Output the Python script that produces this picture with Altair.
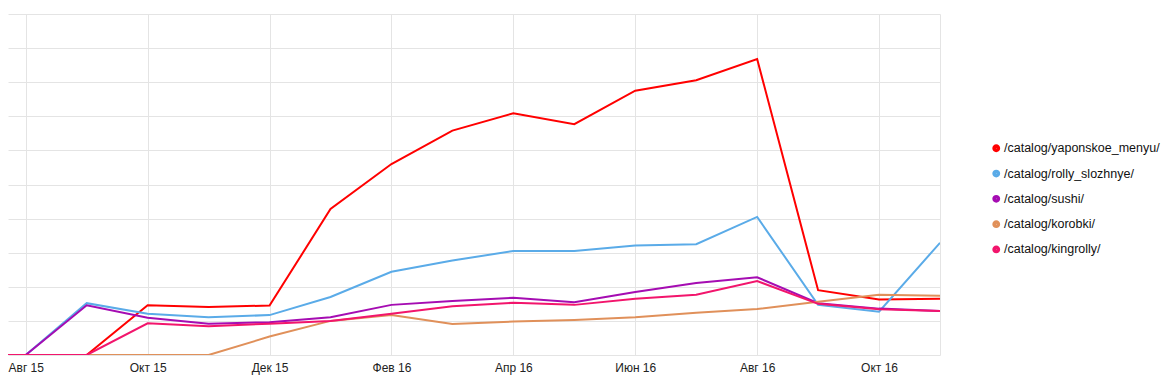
import altair as alt
import pandas as pd

# Month index 0 = Jul 15 ... 16 = Nov 16
months = ["Июл 15", "Авг 15", "Сен 15", "Окт 15", "Ноя 15", "Дек 15",
          "Янв 16", "Фев 16", "Мар 16", "Апр 16", "Май 16", "Июн 16",
          "Июл 16", "Авг 16", "Сен 16", "Окт 16", "Ноя 16"]
month_idx = list(range(len(months)))

series_names = ["/catalog/yaponskoe_menyu/", "/catalog/rolly_slozhnye/",
                "/catalog/sushi/", "/catalog/korobki/", "/catalog/kingrolly/"]
series_colors = ["#ff0000", "#5aabe8", "#a50cb2", "#e0905a", "#f2156c"]

yaponskoe_menyu = [0, 0, 0, 1.46, 1.41, 1.45, 4.28, 5.60, 6.58, 7.09, 6.77, 7.75, 8.06, 8.68, 1.90, 1.63, 1.65]
rolly_slozhnye = [0, 0, 1.52, 1.21, 1.11, 1.17, 1.70, 2.44, 2.77, 3.05, 3.05, 3.21, 3.25, 4.05, 1.47, 1.27, 3.29]
sushi = [0, 0, 1.46, 1.09, 0.92, 0.96, 1.11, 1.47, 1.58, 1.68, 1.55, 1.85, 2.11, 2.28, 1.52, 1.36, 1.29]
korobki = [0, 0, 0, 0, 0, 0.54, 1.00, 1.17, 0.91, 0.98, 1.03, 1.11, 1.24, 1.35, 1.56, 1.77, 1.74]
kingrolly = [0, 0, 0, 0.93, 0.84, 0.92, 1.00, 1.21, 1.43, 1.53, 1.47, 1.65, 1.77, 2.17, 1.50, 1.34, 1.29]

tick_idx = [1, 3, 5, 7, 9, 11, 13, 15]
tick_labels = ["Авг 15", "Окт 15", "Дек 15", "Фев 16", "Апр 16", "Июн 16", "Авг 16", "Окт 16"]

all_values = [yaponskoe_menyu, rolly_slozhnye, sushi, korobki, kingrolly]
rows = []
for order, (name, vals) in enumerate(zip(series_names, all_values)):
    for m, v in zip(month_idx, vals):
        rows.append({"series": name, "m": m, "v": v, "order": order})
df = pd.DataFrame(rows)

label_expr = "".join(f"datum.value == {i} ? '{t}' : " for i, t in zip(tick_idx, tick_labels)) + "''"

chart = alt.Chart(df).mark_line(clip=True, strokeWidth=2).encode(
    x=alt.X("m:Q",
            scale=alt.Scale(domain=[0.709, 16], nice=False, zero=False),
            axis=alt.Axis(title=None, values=tick_idx + [16], labelExpr=label_expr,
                          domain=False, ticks=False, grid=True, gridColor="#e4e4e4",
                          labelPadding=7, labelFontSize=12, labelColor="#222222",
                          labelFont="Liberation Sans")),
    y=alt.Y("v:Q",
            scale=alt.Scale(domain=[0, 10], nice=False),
            axis=alt.Axis(title=None, values=list(range(11)), labels=False, domain=False,
                          ticks=False, grid=True, gridColor="#e4e4e4")),
    color=alt.Color("series:N",
                    scale=alt.Scale(domain=series_names, range=series_colors),
                    legend=alt.Legend(title=None, orient="none", legendX=982, legendY=128,
                                      symbolType="circle", symbolSize=18, symbolStrokeWidth=3.6,
                                      labelFontSize=12.5, labelFont="Liberation Sans",
                                      labelColor="#111111", labelOffset=1.5, rowPadding=5.3,
                                      labelLimit=400, padding=0)),
    order=alt.Order("order:Q", sort="descending"),
).properties(
    width=932, height=341,
    autosize=alt.AutoSizeParams(type="none"),
    padding={"left": 0, "top": 6, "right": 224, "bottom": 22},
).configure_view(stroke=None)

chart.save("out.html", embed_options={"renderer": "svg", "actions": False})
